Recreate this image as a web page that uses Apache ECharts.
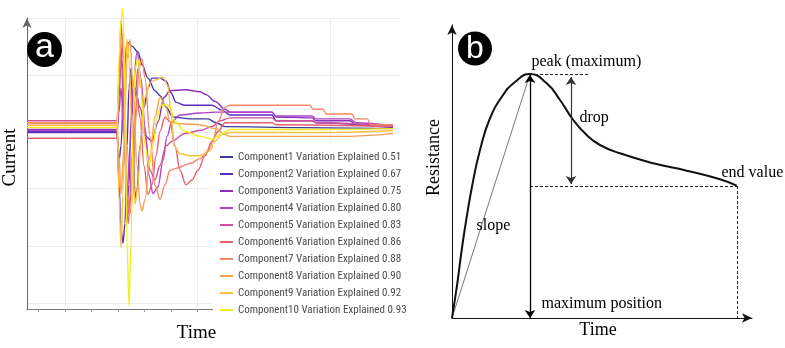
<!DOCTYPE html>
<html>
<head>
<meta charset="utf-8">
<script src="https://cdn.jsdelivr.net/npm/echarts@6/dist/echarts.min.js"></script>
<style>
html, body { margin: 0; padding: 0; background: #fff; }
#chart { width: 785px; height: 348px; }
</style>
</head>
<body>
<div id="chart"></div>
<script>
// ---- panel a : PCA components of the current signal ----
// [time, current] in arbitrary units (time from axis start)
var comp1 = [[0,183],[90,183],[92,153],[94,168],[97,238],[100,275],[105,271],[111,265],[115,252],[121,238],[128,225],[133,220],[139,208],[146,198],[163,196],[181,196],[189,192],[198,188],[273,187],[366,186]];
var comp2 = [[0,182],[90,182],[92,128],[94,83],[96,68],[98,88],[100,168],[102,228],[104,248],[106,198],[108,113],[110,123],[113,168],[117,208],[121,228],[125,238],[133,238],[139,235],[144,223],[149,213],[158,210],[185,210],[195,205],[203,200],[245,200],[249,194],[285,194],[289,192],[366,187]];
var comp3 = [[0,185],[90,185],[92,218],[94,258],[96,248],[98,168],[100,108],[102,128],[104,198],[108,228],[113,208],[119,178],[125,173],[131,193],[137,218],[143,225],[158,226],[173,224],[179,221],[188,214],[198,206],[203,203],[245,203],[249,198],[285,197],[289,194],[323,194],[329,190],[366,188]];
var comp4 = [[0,184],[90,184],[92,203],[94,228],[97,178],[100,118],[103,168],[106,228],[110,265],[114,238],[118,188],[122,138],[126,119],[131,126],[136,153],[140,178],[145,193],[153,200],[173,202],[188,203],[245,203],[249,199],[285,199],[289,196],[323,196],[329,192],[366,189]];
var comp5 = [[0,194],[90,194],[92,238],[94,273],[96,218],[99,138],[102,98],[105,158],[108,218],[111,248],[114,228],[118,178],[123,143],[128,133],[133,148],[139,168],[145,173],[158,181],[173,184],[185,188],[193,194],[203,197],[245,197],[249,194],[285,194],[289,192],[366,189]];
var comp6 = [[0,176],[90,176],[92,238],[94,297],[96,258],[98,158],[101,88],[104,118],[107,178],[110,218],[113,198],[117,148],[121,118],[125,128],[129,158],[133,183],[138,198],[143,193],[148,168],[153,143],[159,128],[165,133],[171,143],[178,158],[185,173],[191,183],[198,192],[245,192],[249,190],[366,188]];
var comp7 = [[0,191],[90,191],[92,228],[94,278],[96,283],[98,208],[100,118],[103,98],[106,118],[109,198],[112,248],[115,258],[118,238],[123,178],[128,128],[133,113],[138,128],[143,143],[149,145],[163,150],[173,155],[181,163],[186,173],[191,193],[198,208],[203,210],[283,210],[286,206],[296,206],[299,201],[325,201],[328,196],[340,196],[344,190],[366,190]];
var comp8 = [[0,192],[90,192],[92,158],[94,118],[97,168],[100,258],[103,278],[106,228],[110,148],[113,108],[115,101],[118,113],[123,158],[128,198],[133,218],[139,208],[143,193],[153,191],[173,190],[188,186],[198,180],[203,178],[323,178],[343,179],[366,181]];
var comp9 = [[0,189],[90,189],[92,118],[94,63],[96,118],[98,228],[100,278],[102,258],[105,178],[108,108],[111,128],[114,178],[118,218],[123,233],[128,236],[136,239],[141,230],[144,203],[147,168],[153,160],[163,158],[173,158],[183,163],[188,173],[195,180],[203,182],[303,182],[366,184]];
var comp10 = [[0,187],[90,187],[92,258],[94,298],[96,310],[98,218],[100,68],[102,3],[104,68],[106,188],[108,248],[111,258],[114,228],[118,168],[122,148],[126,168],[130,198],[134,210],[139,211],[143,208],[148,193],[158,183],[173,178],[186,175],[193,180],[203,185],[273,185],[366,186]];

var compData = [comp1, comp2, comp3, comp4, comp5, comp6, comp7, comp8, comp9, comp10];
var compNames = [
  'Component1 Variation Explained 0.51',
  'Component2 Variation Explained 0.67',
  'Component3 Variation Explained 0.75',
  'Component4 Variation Explained 0.80',
  'Component5 Variation Explained 0.83',
  'Component6 Variation Explained 0.86',
  'Component7 Variation Explained 0.88',
  'Component8 Variation Explained 0.90',
  'Component9 Variation Explained 0.92',
  'Component10 Variation Explained 0.93'
];
var compColors = ['#3b3b9f', '#5b2cc2', '#8a30c0', '#b242c8', '#d24f9a', '#e8606e', '#f5876a', '#fba050', '#fcc040', '#f2ee1e'];

var timeGrid = [38, 170.5, 303];
var timeTicks = [11.5, 38, 64.5, 91, 117.5, 144, 170.5, 197, 223.5, 250, 276.5, 303, 329.5, 356];
var currentGrid = [6, 65, 124, 182, 241, 300];

// ---- panel b : resistance curve features ----
var resistance = [[0,0],[5.3,34.7],[9.7,68],[14.7,101],[20.7,135],[28,168],[37.3,198],[49.7,221],[63,236],[78,244],[94.7,234.7],[108,218],[121.3,198],[134.7,183],[148,173],[168,164.7],[201.3,154.7],[234.7,147.3],[268,138.7],[284.7,132.3]];
var peak = [78, 244];
var endValue = [285, 132];
var slopeLine = [[0, 0], [78, 244]];
var dropArrow = [[119, 241], [119, 134]];
var peakDashEnd = [138, 244];
var featureLabels = [
  { name: 'peak (maximum)', coord: [79, 256] },
  { name: 'drop', coord: [127, 200] },
  { name: 'end value', coord: [269, 145] },
  { name: 'slope', coord: [24, 92] },
  { name: 'maximum position', coord: [89, 14] }
];

var serif = "'Liberation Serif', 'DejaVu Serif', serif";

var chart = echarts.init(document.getElementById('chart'));

var series = compData.map(function (d, i) {
  return {
    name: compNames[i],
    type: 'line',
    xAxisIndex: 0,
    yAxisIndex: 0,
    data: d,
    showSymbol: false,
    smooth: 0.35,
    smoothMonotone: 'x',
    clip: false,
    lineStyle: { width: 1.4, color: compColors[i] },
    itemStyle: { color: compColors[i] },
    z: 2
  };
});

series.push({
  name: 'slope',
  type: 'line',
  xAxisIndex: 2,
  yAxisIndex: 1,
  data: slopeLine,
  showSymbol: false,
  lineStyle: { width: 1, color: '#777' },
  z: 2
});

series.push({
  name: 'resistance',
  type: 'line',
  xAxisIndex: 2,
  yAxisIndex: 1,
  data: resistance,
  showSymbol: false,
  smooth: true,
  clip: false,
  lineStyle: { width: 2, color: '#111' },
  z: 3,
  markLine: {
    silent: true,
    label: { show: false },
    symbol: ['none', 'none'],
    lineStyle: { type: [3, 2], color: '#222', width: 1 },
    data: [
      [{ coord: peak }, { coord: peakDashEnd }],
      [{ coord: [peak[0], endValue[1]] }, { coord: endValue }],
      [{ coord: endValue }, { coord: [endValue[0], 0] }],
      [{ coord: [peak[0], peak[1] - 1], symbol: 'arrow', symbolSize: 8,
         lineStyle: { type: 'solid', color: '#000', width: 1.3 } },
       { coord: [peak[0], 0], symbol: 'arrow', symbolSize: 8 }],
      [{ coord: dropArrow[0], symbol: 'arrow', symbolSize: 8,
         lineStyle: { type: 'solid', color: '#333', width: 1.2 } },
       { coord: dropArrow[1], symbol: 'arrow', symbolSize: 8 }]
    ]
  },
  markPoint: {
    silent: true,
    symbol: 'circle',
    symbolSize: 1,
    itemStyle: { color: 'rgba(0,0,0,0)' },
    label: {
      show: true,
      position: 'right',
      distance: 0,
      formatter: '{b}',
      color: '#000',
      fontFamily: serif,
      fontSize: 16
    },
    data: featureLabels
  }
});

var option = {
  animation: false,
  backgroundColor: '#fff',
  grid: [
    { left: 27, top: 18, width: 373, height: 300 },
    { left: 452, top: 25, width: 300, height: 293 }
  ],
  legend: {
    data: compNames,
    orient: 'vertical',
    left: 213,
    top: 143,
    padding: [8, 10, 0, 7],
    backgroundColor: '#fff',
    icon: 'rect',
    itemWidth: 13,
    itemHeight: 2,
    itemGap: 5,
    selectedMode: false,
    textStyle: {
      fontFamily: "'Liberation Sans Narrow', 'Roboto Condensed', 'Liberation Sans', sans-serif",
      fontSize: 11,
      lineHeight: 12,
      color: '#4a4a4a'
    }
  },
  xAxis: [
    {
      type: 'value', gridIndex: 0, min: 0, max: 373,
      name: 'Time', nameLocation: 'middle', nameGap: 15,
      nameTextStyle: { fontFamily: serif, fontSize: 19, color: '#000', padding: [0, 34, 0, 0] },
      axisLine: { show: true, lineStyle: { color: '#777', width: 1 } },
      axisTick: { show: true, customValues: timeGrid, length: 3, lineStyle: { color: '#999' } },
      axisLabel: { show: false },
      splitLine: { show: true, lineStyle: { color: '#ececec', width: 1 } }
    },
    {
      type: 'value', gridIndex: 0, min: 0, max: 373, position: 'bottom',
      axisLine: { show: false },
      axisTick: { show: true, customValues: timeTicks, length: 3, lineStyle: { color: '#999' } },
      axisLabel: { show: false },
      splitLine: { show: false }
    },
    {
      type: 'value', gridIndex: 1, min: 0, max: 300,
      name: 'Time', nameLocation: 'middle', nameGap: 3,
      nameTextStyle: { fontFamily: serif, fontSize: 18, color: '#000', padding: [0, 8, 0, 0] },
      axisLine: { show: true, symbol: ['none', 'arrow'], symbolSize: [7, 10], lineStyle: { color: '#111', width: 1 } },
      axisTick: { show: false },
      axisLabel: { show: false },
      splitLine: { show: false }
    }
  ],
  yAxis: [
    {
      type: 'value', gridIndex: 0, min: 0, max: 300,
      name: 'Current', nameLocation: 'middle', nameGap: 7,
      nameTextStyle: { fontFamily: serif, fontSize: 19, color: '#000', padding: [0, 0, 0, 12] },
      axisLine: { show: true, symbol: ['none', 'arrow'], symbolSize: [7, 10], lineStyle: { color: '#666', width: 1 } },
      axisTick: { show: false, customValues: currentGrid },
      axisLabel: { show: false },
      splitLine: { show: true, lineStyle: { color: '#ececec', width: 1 } }
    },
    {
      type: 'value', gridIndex: 1, min: 0, max: 293,
      name: 'Resistance', nameLocation: 'middle', nameGap: 9,
      nameTextStyle: { fontFamily: serif, fontSize: 18, color: '#000', padding: [0, 0, 0, 28] },
      axisLine: { show: true, symbol: ['none', 'arrow'], symbolSize: [7, 10], lineStyle: { color: '#111', width: 1 } },
      axisTick: { show: false },
      axisLabel: { show: false },
      splitLine: { show: false }
    }
  ],
  graphic: [
    { type: 'circle', shape: { cx: 44.5, cy: 49.5, r: 17.5 }, style: { fill: '#000' }, z: 10 },
    { type: 'text', x: 44.5, y: 48, style: { text: 'a', fill: '#fff', font: '34px "Liberation Sans", Arial, sans-serif', align: 'center', verticalAlign: 'middle' }, z: 11 },
    { type: 'circle', shape: { cx: 475, cy: 48.5, r: 17 }, style: { fill: '#000' }, z: 10 },
    { type: 'text', x: 475, y: 49, style: { text: 'b', fill: '#fff', font: '32px "Liberation Sans", Arial, sans-serif', align: 'center', verticalAlign: 'middle' }, z: 11 }
  ],
  series: series
};

chart.setOption(option);
</script>
</body>
</html>
